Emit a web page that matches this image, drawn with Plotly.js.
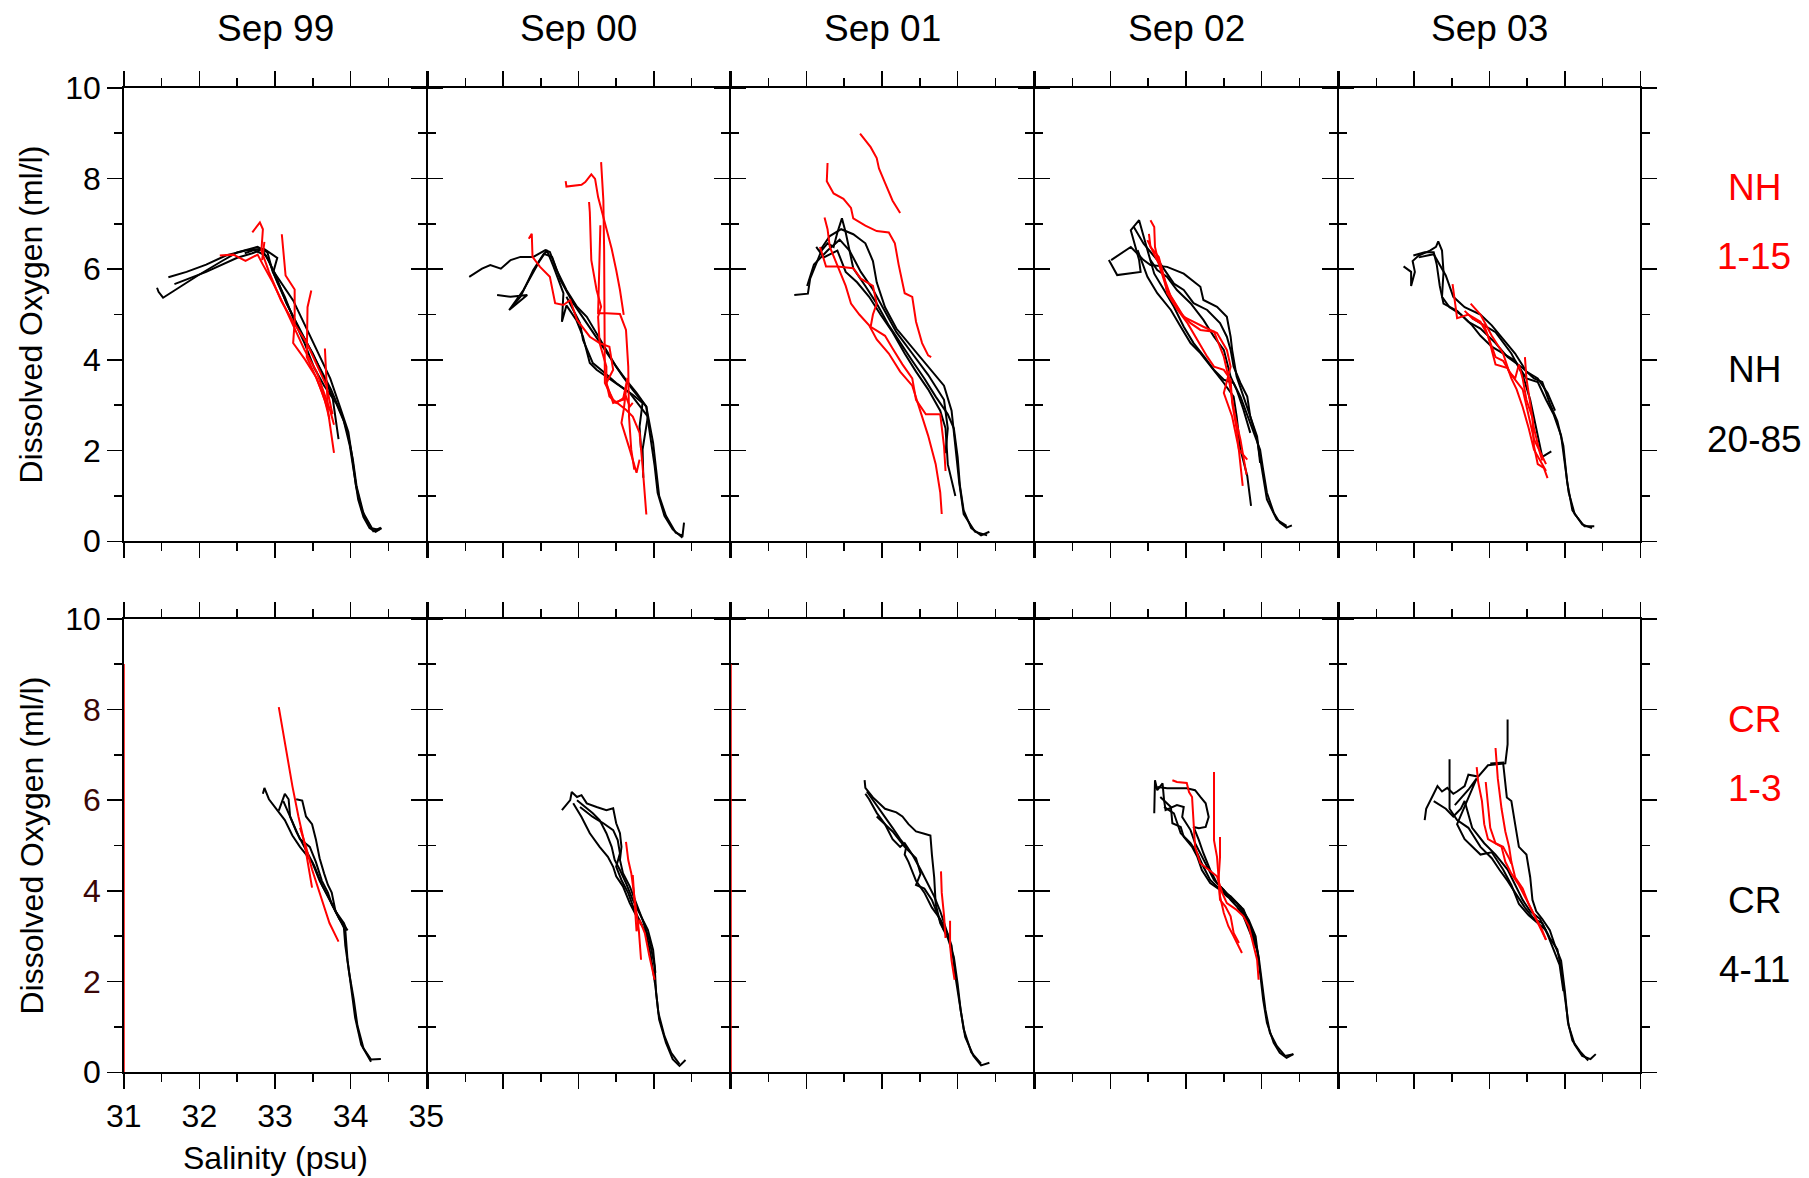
<!DOCTYPE html>
<html>
<head>
<meta charset="utf-8">
<script src="https://cdn.plot.ly/plotly-3.0.1.min.js"></script>
<style>
html,body{margin:0;padding:0;background:#fff;}
#chart{width:1809px;height:1178px;}
</style>
</head>
<body>
<div id="chart"></div>
<script>
// ---------------- DATA (salinity psu, dissolved oxygen ml/l) ----------------
const columnTitles = ["Sep 99", "Sep 00", "Sep 01", "Sep 02", "Sep 03"];
const xTickVals = [31, 32, 33, 34, 35];
const yTickVals = [0, 2, 4, 6, 8, 10];

// Newport Hydrographic line, stations 20-85 (black) and 1-15 (red)
const nh99Deep = [
  [[31.44,5.59],[31.46,5.50],[31.52,5.37],[31.75,5.62],[31.98,5.86],[32.30,6.18],[32.50,6.37],[32.77,6.49],[32.90,6.37],[32.97,5.94],[33.13,5.39],[33.26,4.84],[33.39,4.37],[33.52,3.82],[33.65,3.43],[33.81,3.04],[33.91,2.65],[33.99,2.10],[34.04,1.55],[34.10,0.92],[34.17,0.53],[34.25,0.29],[34.33,0.21],[34.41,0.29]],
  [[31.59,5.82],[31.83,5.94],[32.09,6.10],[32.35,6.30],[32.61,6.41],[32.82,6.45],[32.92,6.18],[33.03,5.71],[33.18,5.16],[33.34,4.61],[33.50,4.14],[33.63,3.67],[33.76,3.19],[33.84,2.25]],
  [[31.67,5.67],[32.09,5.94],[32.50,6.25],[32.70,6.35],[32.85,6.45],[33.03,6.25],[32.98,5.95],[33.24,5.31],[33.44,4.61],[33.60,4.06],[33.73,3.59],[33.86,2.96],[33.97,2.41],[34.02,1.86],[34.07,1.23],[34.15,0.68],[34.28,0.29],[34.38,0.25]],
  [[32.60,6.35],[32.72,6.42],[32.88,6.30],[33.00,5.90],[33.15,5.25],[33.32,4.70],[33.47,4.20],[33.60,3.80],[33.74,3.35],[33.88,2.80],[33.96,2.40],[34.03,1.80],[34.08,1.20],[34.18,0.55],[34.30,0.22],[34.40,0.30]]
];
const nh99Shelf = [
  [[32.27,6.30],[32.45,6.32],[32.61,6.18],[32.77,6.32],[32.84,6.10],[32.97,5.71],[33.13,5.16],[33.26,4.69],[33.39,4.22],[33.55,3.74],[33.65,3.27],[33.73,2.88],[33.78,2.57]],
  [[32.70,6.81],[32.80,7.03],[32.84,6.88],[32.82,6.41],[32.92,5.94],[33.08,5.31],[33.24,4.84],[33.42,4.37],[33.55,3.90],[33.68,3.43],[33.76,2.80]],
  [[33.09,6.77],[33.14,5.86],[33.26,5.55],[33.26,4.84],[33.24,4.37],[33.40,4.00],[33.55,3.60],[33.66,3.10],[33.72,2.70]],
  [[33.48,5.53],[33.43,5.16],[33.42,4.06],[33.52,3.70],[33.62,3.30],[33.70,2.90]],
  [[33.66,4.25],[33.70,2.88],[33.78,1.95]],
  [[32.83,6.20],[32.86,6.60]]
];

const nh00Deep = [
  [[31.55,5.83],[31.72,6.01],[31.83,6.09],[31.97,6.01],[32.10,6.20],[32.23,6.27],[32.40,6.27],[32.56,6.42],[32.62,6.38],[32.71,5.98],[32.84,5.54],[32.98,5.17],[33.11,4.95],[33.24,4.59],[33.37,4.22],[33.50,3.85],[33.63,3.56],[33.77,3.27],[33.90,2.97],[33.94,2.61],[33.99,2.17],[34.03,1.58],[34.07,1.00],[34.16,0.56],[34.29,0.19],[34.38,0.12],[34.40,0.41]],
  [[31.92,5.43],[32.10,5.39],[32.32,5.43],[32.08,5.10],[32.27,5.54],[32.49,6.20],[32.58,6.42],[32.67,6.05],[32.80,5.47],[32.78,4.84],[32.84,5.20],[32.97,4.88],[33.06,4.51],[33.15,3.93],[33.24,3.78],[33.37,3.63],[33.50,3.49],[33.68,3.27],[33.92,2.75],[33.85,2.02],[33.86,1.40]],
  [[32.12,5.17],[32.23,5.39],[32.40,5.98],[32.54,6.34],[32.65,6.27],[32.76,5.76],[32.93,5.25],[33.11,4.81],[33.28,4.37],[33.46,3.93],[33.59,3.63],[33.72,3.34],[33.90,2.97],[33.92,2.68],[33.96,2.24],[34.01,1.66],[34.05,1.07],[34.14,0.56],[34.25,0.26],[34.38,0.08]],
  [[32.84,5.39],[33.02,4.81],[33.06,4.44],[33.19,3.93],[33.33,3.74],[33.50,3.49],[33.72,3.23],[33.85,3.05],[33.81,2.53],[33.83,2.02]]
];
const nh00Shelf = [
  [[32.34,6.67],[32.38,6.78],[32.39,6.27],[32.49,6.05],[32.62,5.83],[32.69,5.25],[32.80,5.21],[32.89,5.32],[32.98,4.88],[33.15,4.51],[33.28,4.37],[33.41,4.29],[33.46,3.78],[33.37,3.49],[33.41,3.19],[33.50,3.05],[33.63,3.19],[33.68,2.97],[33.72,3.05]],
  [[32.83,7.94],[32.84,7.82],[33.04,7.86],[33.09,7.92],[33.17,8.09],[33.22,7.99],[33.26,7.59],[33.33,7.15],[33.37,6.86],[33.41,6.64],[33.44,6.45],[33.50,5.98],[33.55,5.54],[33.60,4.99]],
  [[33.30,8.36],[33.33,7.52],[33.34,6.42],[33.34,5.32],[33.34,4.22],[33.35,3.49],[33.46,3.12],[33.63,2.90],[33.72,2.75],[33.81,2.39],[33.85,1.66],[33.90,0.59]],
  [[33.14,7.48],[33.15,7.26],[33.17,6.20],[33.24,5.54],[33.30,5.17],[33.26,4.95],[33.28,4.37],[33.37,3.85],[33.37,3.49],[33.46,3.05],[33.59,3.12],[33.65,3.60],[33.60,2.90],[33.57,2.61],[33.68,2.02],[33.77,1.51],[33.81,1.80]],
  [[33.29,6.97],[33.28,6.42],[33.27,5.32],[33.26,5.03],[33.37,5.03],[33.55,5.01],[33.63,4.66],[33.66,3.85],[33.67,2.75],[33.70,2.02],[33.74,1.58]]
];

const nh01Deep = [
  [[31.84,5.43],[32.02,5.46],[32.05,5.79],[32.13,6.10],[32.20,6.41],[32.28,6.57],[32.36,6.49],[32.41,6.81],[32.47,7.12],[32.52,6.81],[32.62,6.02],[32.78,5.63],[32.93,5.24],[33.09,4.76],[33.24,4.37],[33.40,3.98],[33.56,3.59],[33.71,3.19],[33.87,2.80],[33.95,2.49],[34.00,1.86],[34.03,1.23],[34.08,0.68],[34.18,0.29],[34.31,0.13],[34.42,0.21]],
  [[32.18,6.41],[32.31,6.73],[32.46,6.88],[32.62,6.77],[32.78,6.57],[32.88,6.18],[32.93,5.71],[33.04,5.16],[33.19,4.69],[33.35,4.37],[33.51,4.06],[33.66,3.74],[33.82,3.43],[33.92,2.88],[33.97,2.10],[34.02,1.31],[34.08,0.60],[34.23,0.21],[34.39,0.13]],
  [[32.13,6.49],[32.23,6.26],[32.41,6.41],[32.52,5.94],[32.67,5.71],[32.83,5.39],[32.98,5.00],[33.14,4.61],[33.30,4.14],[33.45,3.74],[33.61,3.35],[33.77,2.88],[33.84,2.49],[33.87,1.70],[33.97,1.00]],
  [[32.01,5.63],[32.10,6.10],[32.28,6.41],[32.44,6.65],[32.57,6.41],[32.72,5.94],[32.88,5.55],[33.04,5.08],[33.19,4.61],[33.40,4.14],[33.61,3.67],[33.82,3.12],[33.87,2.49],[33.84,1.94]]
];
const nh01Shelf = [
  [[32.71,8.99],[32.85,8.69],[32.93,8.45],[32.96,8.22],[33.04,7.90],[33.14,7.51],[33.24,7.24]],
  [[32.28,8.34],[32.27,7.94],[32.36,7.67],[32.49,7.55],[32.59,7.35],[32.62,7.12],[32.78,6.96],[32.93,6.84],[33.09,6.81],[33.17,6.57],[33.22,6.10],[33.30,5.47],[33.40,5.39],[33.45,4.84],[33.53,4.37],[33.61,4.10],[33.65,4.06]],
  [[32.24,7.14],[32.28,6.88],[32.31,6.49],[32.41,6.10],[32.52,5.63],[32.59,5.24],[32.70,5.00],[32.83,4.76],[32.93,4.45],[33.09,4.14],[33.24,3.74],[33.40,3.43],[33.51,2.88],[33.61,2.33],[33.71,1.70],[33.77,1.08],[33.79,0.60]],
  [[32.18,6.49],[32.26,6.06],[32.41,6.06],[32.62,6.02],[32.72,5.79],[32.88,5.63],[32.93,5.24],[32.88,5.00],[32.85,4.73],[33.04,4.53],[33.14,4.25],[33.27,3.90],[33.40,3.59],[33.45,3.12],[33.58,2.80],[33.77,2.80],[33.82,2.10],[33.84,1.55]]
];

const nh02Deep = [
  [[31.98,6.20],[32.09,5.87],[32.40,5.94],[32.38,6.20],[32.27,6.86],[32.38,7.08],[32.49,6.42],[32.58,5.90],[32.71,5.54],[32.84,5.17],[32.97,4.73],[33.10,4.37],[33.24,4.07],[33.37,3.78],[33.50,3.56],[33.63,3.49],[33.72,3.19],[33.80,2.83],[33.89,2.46],[33.98,2.02],[34.02,1.58],[34.07,1.07],[34.16,0.63],[34.24,0.41],[34.33,0.30],[34.40,0.35]],
  [[32.01,6.20],[32.14,6.34],[32.27,6.49],[32.44,6.20],[32.53,6.09],[32.75,6.05],[32.97,5.90],[33.19,5.61],[33.23,5.32],[33.41,5.17],[33.54,4.95],[33.59,4.51],[33.61,4.22],[33.67,3.63],[33.76,3.19],[33.85,2.75],[33.94,2.24],[34.00,1.58],[34.07,0.92],[34.20,0.48],[34.33,0.34]],
  [[32.31,6.93],[32.44,6.56],[32.66,6.12],[32.84,5.68],[32.97,5.54],[33.10,5.25],[33.28,5.10],[33.45,4.81],[33.54,4.51],[33.59,4.22],[33.63,3.85],[33.72,3.49],[33.81,3.19],[33.85,2.75],[33.94,2.31],[33.98,1.73]],
  [[32.36,6.42],[32.49,5.83],[32.62,5.47],[32.80,5.10],[32.93,4.73],[33.06,4.37],[33.19,4.15],[33.37,3.78],[33.50,3.49],[33.63,3.19],[33.67,2.75],[33.72,2.02],[33.81,1.44],[33.86,0.78]],
  [[32.53,6.20],[32.62,5.98],[32.75,5.83],[32.88,5.54],[33.06,5.25],[33.23,4.88],[33.37,4.51],[33.50,4.22],[33.59,3.63],[33.67,3.34],[33.76,2.90],[33.85,2.39]]
];
const nh02Shelf = [
  [[32.53,7.08],[32.58,6.93],[32.59,6.49],[32.62,6.27],[32.69,5.90],[32.80,5.39],[32.93,5.03],[33.06,4.81],[33.19,4.66],[33.37,4.62],[33.43,4.37],[33.50,4.07],[33.56,3.63],[33.61,3.19],[33.65,2.75],[33.72,2.24],[33.76,1.88],[33.80,1.47]],
  [[32.51,6.78],[32.53,6.49],[32.64,6.27],[32.71,5.83],[32.75,5.47],[32.89,5.10],[33.02,4.81],[33.15,4.44],[33.28,4.07],[33.37,3.85],[33.50,3.78],[33.59,3.56],[33.61,3.05],[33.67,2.46],[33.72,1.73],[33.75,1.22]],
  [[32.49,6.64],[32.64,6.12],[32.75,5.54],[32.97,4.95],[33.23,4.73],[33.41,4.59],[33.54,4.22],[33.59,3.85],[33.50,3.27],[33.61,2.75],[33.70,2.02],[33.81,1.80]]
];

const nh03Deep = [
  [[31.86,6.06],[31.96,5.94],[31.96,5.63],[32.01,5.94],[31.98,6.18],[32.06,6.30],[32.21,6.41],[32.29,6.49],[32.32,6.61],[32.37,6.41],[32.39,5.94],[32.37,5.39],[32.47,5.16],[32.62,5.00],[32.77,4.76],[32.88,4.53],[33.03,4.29],[33.18,4.14],[33.34,3.98],[33.49,3.59],[33.64,3.51],[33.75,3.12],[33.85,2.80],[33.95,2.33],[34.00,1.70],[34.05,1.08],[34.13,0.60],[34.26,0.33],[34.39,0.33]],
  [[31.99,6.30],[32.14,6.37],[32.26,6.37],[32.30,6.10],[32.34,5.63],[32.39,5.24],[32.57,5.08],[32.72,4.84],[32.88,4.69],[33.08,4.37],[33.24,4.06],[33.44,3.82],[33.59,3.59],[33.70,3.51],[33.80,3.04],[33.90,2.65],[33.98,2.10],[34.03,1.31],[34.10,0.68],[34.23,0.37],[34.36,0.29]],
  [[32.06,6.26],[32.26,6.33],[32.42,5.86],[32.52,5.39],[32.67,5.16],[32.88,5.00],[33.03,4.76],[33.18,4.45],[33.34,4.14],[33.49,3.74],[33.64,3.59],[33.77,3.27],[33.87,2.88]],
  [[32.77,4.92],[33.08,4.61],[33.29,4.14],[33.44,3.67],[33.54,3.12],[33.62,2.49],[33.70,1.86],[33.82,1.98]]
];
const nh03Shelf = [
  [[32.51,5.67],[32.54,5.31],[32.57,4.92],[32.72,5.00],[32.88,4.84],[32.98,4.53],[33.06,4.06],[33.08,3.90],[33.24,3.82],[33.29,3.59],[33.36,3.35],[33.44,2.96],[33.52,2.49],[33.59,2.02],[33.70,1.70],[33.75,1.55]],
  [[32.75,5.24],[32.88,5.00],[33.03,4.53],[33.18,4.14],[33.26,3.74],[33.34,3.59],[33.39,3.90],[33.44,3.59],[33.49,3.12],[33.57,2.72],[33.59,2.10],[33.64,1.70],[33.72,1.62],[33.77,1.39]],
  [[33.47,4.06],[33.49,3.59],[33.54,3.04],[33.59,2.49],[33.67,1.94],[33.70,1.78]],
  [[32.67,5.08],[32.77,4.92],[32.93,4.76],[33.08,4.06],[33.18,3.98],[33.29,3.67],[33.44,3.35],[33.52,2.80],[33.59,2.25],[33.75,1.70]]
];

// Columbia River line, stations 4-11 (black) and 1-3 (red)
const cr99Deep = [
  [[32.84,6.14],[32.86,6.27],[32.92,6.02],[33.02,5.81],[33.13,5.56],[33.23,5.22],[33.33,4.97],[33.49,4.64],[33.59,4.22],[33.70,3.88],[33.80,3.55],[33.91,3.21],[33.93,2.79],[33.98,2.20],[34.04,1.62],[34.09,1.03],[34.17,0.53],[34.27,0.28],[34.40,0.29]],
  [[33.05,5.77],[33.13,6.14],[33.18,6.02],[33.20,5.64],[33.28,5.31],[33.39,4.97],[33.52,4.55],[33.62,4.13],[33.72,3.80],[33.83,3.46],[33.93,3.13],[33.96,2.46],[34.01,1.79],[34.06,1.20],[34.14,0.61],[34.27,0.23]],
  [[33.28,6.02],[33.36,5.99],[33.41,5.64],[33.49,5.47],[33.54,5.14],[33.59,4.72],[33.65,4.38],[33.70,4.13],[33.75,3.96],[33.80,3.55],[33.91,3.29],[33.95,3.13]],
  [[33.11,5.98],[33.18,5.72],[33.26,5.39],[33.33,5.14],[33.46,4.97],[33.54,4.64],[33.62,4.22],[33.70,3.96],[33.75,3.71],[33.85,3.38],[33.96,3.13]]
];
const cr99Shelf = [
  [[33.05,8.05],[33.15,7.07],[33.23,6.31],[33.31,5.64],[33.39,5.05],[33.49,4.07]],
  [[33.33,5.39],[33.41,4.97],[33.49,4.47],[33.57,4.05],[33.65,3.63],[33.72,3.29],[33.84,2.88]],
  [[31.00,0.00],[31.00,9.00]]
];

const cr00Deep = [
  [[32.78,5.78],[32.89,6.00],[32.91,6.18],[32.98,6.07],[33.04,6.11],[33.11,5.93],[33.24,5.85],[33.37,5.78],[33.46,5.82],[33.50,5.49],[33.55,5.27],[33.57,4.97],[33.55,4.68],[33.59,4.39],[33.68,4.10],[33.77,3.73],[33.85,3.36],[33.94,2.92],[34.01,2.34],[34.03,1.75],[34.07,1.16],[34.16,0.65],[34.25,0.29],[34.34,0.14],[34.42,0.27]],
  [[32.93,5.93],[33.04,5.63],[33.15,5.27],[33.28,4.97],[33.39,4.75],[33.46,4.53],[33.50,4.32],[33.59,4.10],[33.68,3.73],[33.77,3.44],[33.90,3.07],[33.96,2.56],[34.02,1.90],[34.06,1.31],[34.14,0.80],[34.23,0.43],[34.34,0.18]],
  [[32.98,6.00],[33.09,5.85],[33.19,5.71],[33.28,5.56],[33.37,5.27],[33.44,4.97],[33.48,4.68],[33.55,4.46],[33.63,4.17],[33.72,3.80],[33.81,3.51],[33.92,3.14],[33.99,2.70],[34.02,2.19]],
  [[33.02,5.85],[33.19,5.63],[33.33,5.49],[33.46,5.34],[33.52,5.12],[33.55,4.83],[33.50,4.53],[33.57,4.24],[33.66,3.95],[33.74,3.58],[33.85,3.22]]
];
const cr00Shelf = [
  [[33.63,5.08],[33.66,4.68],[33.70,4.39],[33.74,3.95],[33.77,3.51],[33.80,3.14],[33.83,2.48]],
  [[33.72,4.35],[33.74,3.73],[33.77,3.11],[33.81,3.36],[33.88,3.07],[33.94,2.56],[34.01,2.04]]
];

const cr01Deep = [
  [[32.77,6.44],[32.78,6.27],[32.88,6.06],[33.04,5.81],[33.19,5.73],[33.27,5.64],[33.35,5.47],[33.45,5.31],[33.56,5.26],[33.64,5.22],[33.66,4.80],[33.69,4.30],[33.71,3.71],[33.77,3.29],[33.87,2.96],[33.95,2.54],[34.00,1.95],[34.04,1.37],[34.10,0.78],[34.21,0.36],[34.31,0.15],[34.42,0.21]],
  [[32.78,6.14],[32.83,6.02],[32.93,5.72],[33.04,5.47],[33.14,5.14],[33.24,4.97],[33.30,5.05],[33.40,4.80],[33.51,4.47],[33.61,4.13],[33.69,3.88],[33.77,3.55],[33.84,3.21],[33.92,2.79],[33.97,2.12],[34.03,1.53],[34.08,0.95],[34.18,0.44],[34.31,0.19]],
  [[32.80,6.19],[32.93,5.89],[33.04,5.64],[33.14,5.39],[33.24,5.14],[33.32,4.97],[33.30,4.80],[33.35,4.64],[33.45,4.22],[33.56,3.96],[33.66,3.63],[33.77,3.38],[33.87,3.04]],
  [[32.93,5.64],[33.14,5.31],[33.30,4.97],[33.45,4.72],[33.51,4.38],[33.45,4.13],[33.56,4.05],[33.66,3.80],[33.74,3.46],[33.82,3.13]]
];
const cr01Shelf = [
  [[33.78,4.43],[33.79,3.96],[33.82,3.46],[33.84,2.96]],
  [[33.90,3.34],[33.90,2.79],[33.92,2.46],[33.96,2.04]],
  [[31.00,0.00],[31.00,9.00]]
];

const cr02Deep = [
  [[32.58,5.71],[32.59,6.44],[32.62,6.22],[32.69,6.37],[32.71,6.00],[32.73,5.78],[32.88,5.89],[32.97,5.85],[32.95,5.63],[33.06,5.34],[33.12,5.05],[33.19,4.83],[33.28,4.53],[33.37,4.24],[33.50,4.02],[33.59,3.80],[33.67,3.66],[33.76,3.44],[33.85,3.07],[33.94,2.70],[33.98,2.19],[34.02,1.60],[34.07,1.09],[34.16,0.65],[34.24,0.43],[34.33,0.32],[34.42,0.40]],
  [[32.62,6.29],[32.75,6.26],[33.01,6.26],[33.12,6.22],[33.19,6.07],[33.26,5.93],[33.30,5.63],[33.26,5.41],[33.17,5.38],[33.10,5.41],[33.17,5.12],[33.23,4.83],[33.32,4.46],[33.41,4.17],[33.54,3.95],[33.67,3.73],[33.78,3.44],[33.89,3.07],[33.96,2.56],[34.00,1.97],[34.05,1.38],[34.11,0.87],[34.20,0.58],[34.31,0.36],[34.42,0.40]],
  [[32.66,6.07],[32.80,5.85],[32.82,5.49],[32.93,5.41],[32.97,5.19],[33.08,4.97],[33.15,4.75],[33.21,4.46],[33.32,4.17],[33.45,4.02],[33.59,3.88],[33.72,3.66],[33.83,3.36],[33.92,3.00],[33.96,2.48]],
  [[32.71,5.85],[32.84,5.71],[32.93,5.27],[33.06,5.05],[33.15,4.83],[33.23,4.53],[33.32,4.24],[33.41,4.10],[33.54,3.88],[33.67,3.73],[33.76,3.59],[33.85,3.22],[33.92,2.78]]
];
const cr02Shelf = [
  [[32.82,6.44],[32.88,6.40],[33.01,6.38],[33.04,6.18],[33.08,6.07],[33.10,5.56],[33.12,4.97],[33.19,4.61],[33.30,4.46],[33.41,4.32],[33.48,3.95],[33.54,3.73],[33.67,3.58],[33.76,3.44],[33.83,3.22],[33.89,2.85],[33.94,2.48],[33.96,2.04]],
  [[33.37,6.62],[33.37,5.85],[33.37,5.12],[33.41,4.75],[33.43,4.39],[33.45,3.88],[33.50,3.51],[33.56,3.22],[33.63,3.00],[33.70,2.78],[33.74,2.63]],
  [[33.45,5.19],[33.45,4.75],[33.43,4.24],[33.45,3.80],[33.52,3.66],[33.59,3.44],[33.63,3.07],[33.70,2.85]]
];

const cr03Deep = [
  [[32.14,5.56],[32.16,5.81],[32.26,6.14],[32.31,6.31],[32.37,6.19],[32.44,6.27],[32.52,6.14],[32.57,6.19],[32.67,6.31],[32.72,6.56],[32.85,6.52],[32.98,6.77],[33.21,6.81],[33.24,7.23],[33.24,7.78]],
  [[32.47,6.90],[32.47,5.81],[32.57,5.56],[32.72,5.39],[32.88,4.97],[33.03,4.72],[33.13,4.47],[33.24,4.22],[33.34,3.96],[33.47,3.63],[33.59,3.38],[33.70,3.29],[33.80,2.96],[33.90,2.71],[33.95,2.29],[34.00,1.62],[34.05,1.03],[34.13,0.61],[34.23,0.36],[34.34,0.29],[34.41,0.40]],
  [[33.01,6.81],[33.18,6.83],[33.23,6.06],[33.29,5.98],[33.34,5.47],[33.39,4.97],[33.49,4.80],[33.54,4.30],[33.57,3.80],[33.62,3.55],[33.70,3.38],[33.80,3.13],[33.87,2.79],[33.95,2.46],[34.00,1.79],[34.04,1.11],[34.10,0.70],[34.21,0.44],[34.31,0.26]],
  [[32.26,5.98],[32.42,5.81],[32.52,5.64],[32.62,5.81],[32.67,5.98],[32.77,5.39],[32.93,5.05],[33.08,4.80],[33.24,4.47],[33.34,4.13],[33.44,3.80],[33.54,3.55],[33.67,3.38],[33.77,3.04],[33.85,2.71],[33.93,2.37],[33.98,1.79]],
  [[32.54,5.89],[32.72,6.23],[32.83,6.48],[32.57,5.47],[32.67,5.14],[32.88,4.80],[33.03,4.85],[33.18,4.47],[33.29,4.13],[33.39,3.71],[33.52,3.46],[33.64,3.29],[33.75,3.13]]
];
const cr03Shelf = [
  [[33.08,7.15],[33.11,6.48],[33.16,5.81],[33.21,5.31],[33.26,4.97],[33.29,4.64],[33.34,4.30],[33.44,4.05],[33.52,3.71],[33.59,3.46],[33.67,3.21],[33.75,2.92]],
  [[32.83,6.73],[32.85,6.40],[32.90,5.98],[32.93,5.47],[32.98,5.14],[33.08,5.05],[33.16,4.97],[33.21,4.64],[33.29,4.38],[33.39,4.13],[33.49,3.80],[33.59,3.46],[33.70,3.13],[33.75,2.92]],
  [[32.95,6.40],[32.98,5.81],[33.01,5.39],[33.08,5.05],[33.18,4.97],[33.26,4.72],[33.29,4.60]]
];

const rowLabels = [
  [{text:"NH", color:"#ff0000"}, {text:"1-15", color:"#ff0000"}, {text:"NH", color:"#000000"}, {text:"20-85", color:"#000000"}],
  [{text:"CR", color:"#ff0000"}, {text:"1-3", color:"#ff0000"}, {text:"CR", color:"#000000"}, {text:"4-11", color:"#000000"}]
];

// ---------------- LAYOUT BUILD ----------------
const W = 1809, H = 1178;
const FONT = "Liberation Sans, Arial, Helvetica, sans-serif";
const panels = [
  [nh99Deep, nh99Shelf], [nh00Deep, nh00Shelf], [nh01Deep, nh01Shelf], [nh02Deep, nh02Shelf], [nh03Deep, nh03Shelf],
  [cr99Deep, cr99Shelf], [cr00Deep, cr00Shelf], [cr01Deep, cr01Shelf], [cr02Deep, cr02Shelf], [cr03Deep, cr03Shelf]
];
// frame line centres (px)
const colEdge = [123, 427, 730, 1034, 1338, 1641];
const rowEdge = [[87, 542], [618, 1073]];
const LW = 1.5;            // frame line width
const HALF = LW / 2;       // plotly draws frame lines just outside the plot area

const traces = [];
const layout = {
  width: W, height: H,
  margin: {l:0, r:0, t:0, b:0, pad:0},
  paper_bgcolor: "#ffffff", plot_bgcolor: "rgba(0,0,0,0)",
  showlegend: false,
  font: {family: FONT, color: "#000", size: 32},
  annotations: []
};

panels.forEach((pair, p) => {
  const r = Math.floor(p / 5), c = p % 5;
  const sfx = p === 0 ? "" : String(p + 1);
  const xa = "x" + sfx, ya = "y" + sfx;
  const [deep, shelf] = pair;
  deep.forEach(prof => traces.push({
    type: "scatter", mode: "lines", x: prof.map(d => d[0]), y: prof.map(d => d[1]),
    xaxis: xa, yaxis: ya, line: {color: "#000000", width: 2}, hoverinfo: "skip"
  }));
  shelf.forEach(prof => traces.push({
    type: "scatter", mode: "lines", x: prof.map(d => d[0]), y: prof.map(d => d[1]),
    xaxis: xa, yaxis: ya, line: {color: "#ff0000", width: 2}, hoverinfo: "skip"
  }));
  const common = {
    showline: true, linecolor: "#000", linewidth: LW, mirror: "ticks",
    ticks: "outside", ticklen: 15, tickwidth: LW, tickcolor: "#000",
    showgrid: false, zeroline: false, fixedrange: true,
    tickfont: {family: FONT, size: 32, color: "#000"}
  };
  const yText = (r === 1 && c === 0)
    ? yTickVals.map(v => (v === 0 || v === 10) ? String(v) : '<span style="color:#3a0606">' + v + '</span>')
    : yTickVals.map(String);
  layout["xaxis" + sfx] = Object.assign({}, common, {
    domain: [(colEdge[c] + HALF) / W, (colEdge[c + 1] - HALF) / W],
    range: [31, 35], anchor: ya,
    tickmode: "array", tickvals: xTickVals, ticktext: xTickVals.map(String),
    showticklabels: (r === 1 && c === 0),
    minor: {dtick: 0.5, ticks: "outside", ticklen: 8, tickwidth: LW, tickcolor: "#000", showgrid: false}
  });
  layout["yaxis" + sfx] = Object.assign({}, common, {
    domain: [1 - (rowEdge[r][1] - HALF) / H, 1 - (rowEdge[r][0] + HALF) / H],
    range: [0, 10], anchor: xa,
    tickmode: "array", tickvals: yTickVals, ticktext: yText,
    showticklabels: c === 0,
    minor: {dtick: 1, ticks: "outside", ticklen: 8, tickwidth: LW, tickcolor: "#000", showgrid: false}
  });
  if (r === 0) {
    layout.annotations.push({
      xref: "paper", yref: "paper", x: (colEdge[c] + colEdge[c + 1]) / 2 / W, y: 1 - 29 / H,
      xanchor: "center", yanchor: "middle", showarrow: false,
      text: columnTitles[c], font: {family: FONT, size: 37, color: "#000"}
    });
  }
  if (c === 0) {
    layout.annotations.push({
      xref: "paper", yref: "paper", x: 31 / W, y: 1 - (rowEdge[r][0] + rowEdge[r][1]) / 2 / H,
      xanchor: "center", yanchor: "middle", showarrow: false, textangle: -90,
      text: "Dissolved Oxygen (ml/l)", font: {family: FONT, size: 32, color: "#000"}
    });
  }
});

layout.annotations.push({
  xref: "paper", yref: "paper", x: (colEdge[0] + colEdge[1]) / 2 / W, y: 1 - 1158 / H,
  xanchor: "center", yanchor: "middle", showarrow: false,
  text: "Salinity (psu)", font: {family: FONT, size: 32, color: "#000"}
});

const labelY = [[188, 256, 370, 439], [719, 788, 900, 969]];
rowLabels.forEach((labs, r) => labs.forEach((lab, i) => {
  layout.annotations.push({
    xref: "paper", yref: "paper", x: 1754 / W, y: 1 - labelY[r][i] / H,
    xanchor: "center", yanchor: "middle", showarrow: false,
    text: lab.text, font: {family: FONT, size: 37, color: lab.color}
  });
}));

Plotly.newPlot("chart", traces, layout, {staticPlot: true, displayModeBar: false});
</script>
</body>
</html>
